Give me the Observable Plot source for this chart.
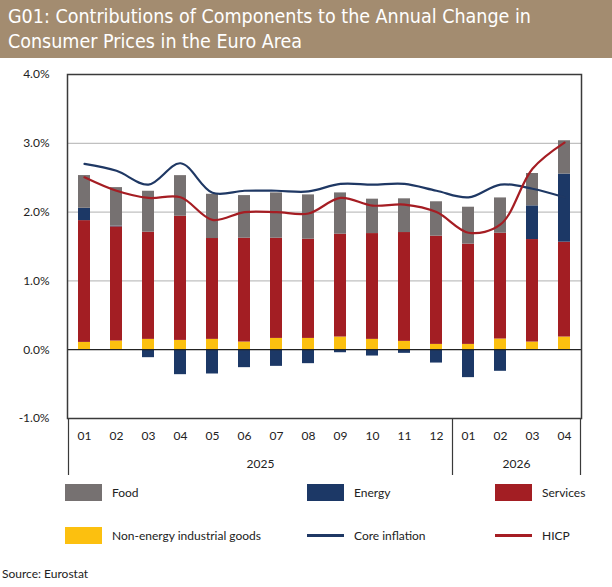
<!DOCTYPE html>
<html>
<head>
<meta charset="utf-8">
<script src="https://cdn.jsdelivr.net/npm/d3@7"></script>
<script src="https://cdn.jsdelivr.net/npm/@observablehq/plot@0.6"></script>
<style>
  html, body { margin: 0; padding: 0; background: #fff; }
  #wrap { position: relative; width: 612px; height: 587px; font-family: Lato, "Open Sans", sans-serif; color: #222; }
  #title { position: absolute; left: 0; top: 0; width: 612px; height: 58px; background: #a38c70; color: #fff;
           font-family: "Liberation Sans Narrow", "Arial Narrow", "DejaVu Sans Condensed", sans-serif; font-size: 19.5px; line-height: 25px;
           box-sizing: border-box; padding: 4px 0 0 8px; }
  #chart { position: absolute; left: 0; top: 58px; }
  .leg { position: absolute; font-size: 12px; display: flex; align-items: center; }
  .sw { width: 37px; height: 17px; margin-right: 10px; }
  .ln { width: 37px; height: 3px; margin-right: 10px; }
  #source { position: absolute; left: 2px; top: 566px; font-size: 12px; }
</style>
</head>
<body>
<div id="wrap">
  <div id="title">G01: Contributions of Components to the Annual Change in<br>Consumer Prices in the Euro Area</div>
  <div id="chart"></div>
  <div id="legend"></div>
  <div id="source">Source: Eurostat</div>
</div>
<script>
const months = ["01","02","03","04","05","06","07","08","09","10","11","12","01","02","03","04"];
const years  = ["2025","2025","2025","2025","2025","2025","2025","2025","2025","2025","2025","2025","2026","2026","2026","2026"];
const food     = [0.475, 0.56, 0.595, 0.59, 0.643, 0.619, 0.658, 0.644, 0.60, 0.50, 0.49, 0.50, 0.537, 0.513, 0.47, 0.484];
const energy   = [0.18, 0.01, -0.116, -0.363, -0.353, -0.261, -0.242, -0.203, -0.044, -0.092, -0.053, -0.194, -0.406, -0.314, 0.49, 0.99];
const services = [1.77, 1.66, 1.558, 1.805, 1.466, 1.51, 1.457, 1.442, 1.495, 1.538, 1.582, 1.573, 1.457, 1.538, 1.49, 1.379];
const neig     = [0.106, 0.126, 0.15, 0.135, 0.15, 0.111, 0.164, 0.164, 0.184, 0.15, 0.121, 0.077, 0.077, 0.155, 0.111, 0.184];
const core     = [2.70, 2.60, 2.40, 2.71, 2.28, 2.31, 2.31, 2.30, 2.41, 2.40, 2.41, 2.31, 2.215, 2.40, 2.34, 2.215];
const hicp     = [2.506, 2.31, 2.206, 2.216, 1.887, 2.0, 2.0, 1.98, 2.206, 2.095, 2.11, 2.0, 1.70, 1.82, 2.63, 3.01];
const yTicks = [-1, 0, 1, 2, 3, 4];
const yearLabels = ["2025", "2026"];
const yearAnchors = ["2025-07", "2026-03"];
const groupStarts = ["2025-01", "2026-01"];
const groupEnd = ["2026-04"];

const seriesNames = ["Non-energy industrial goods", "Services", "Energy", "Food"];
const seriesColors = ["#fcc00f", "#a31e23", "#1c3866", "#767171"];
const seriesValues = [neig, services, energy, food];

const keys = months.map((m, i) => years[i] + "-" + m);
const bars = [];
seriesNames.forEach((s, j) => keys.forEach((k, i) => bars.push({key: k, series: s, value: seriesValues[j][i]})));
const coreData = keys.map((k, i) => ({key: k, value: core[i]}));
const hicpData = keys.map((k, i) => ({key: k, value: hicp[i]}));

const W = 612, H = 420, mT = 16, mB = 60;
const frameH = H - mT - mB;

const plot = Plot.plot({
  width: W, height: H,
  marginLeft: 67, marginRight: 31, marginTop: mT, marginBottom: mB,
  style: {fontFamily: "Lato, 'Open Sans', sans-serif", fontSize: "12px", color: "#222"},
  x: {domain: keys, padding: 0, label: null},
  y: {domain: [-1, 4], label: null},
  color: {domain: seriesNames, range: seriesColors},
  marks: [
    Plot.ruleY([1, 2, 3], {stroke: "#c0c0c0", strokeWidth: 1.2}),
    Plot.barY(bars, Plot.stackY({x: "key", y: "value", fill: "series", order: seriesNames, insetLeft: 10, insetRight: 10})),
    Plot.ruleY([0], {stroke: "#222", strokeWidth: 1.2}),
    Plot.line(coreData, {x: "key", y: "value", stroke: "#1f3864", strokeWidth: 2.2, curve: "catmull-rom"}),
    Plot.line(hicpData, {x: "key", y: "value", stroke: "#a51d23", strokeWidth: 2.2, curve: "catmull-rom"}),
    Plot.frame({stroke: "#3a3a3a", strokeWidth: 1.5}),
    Plot.axisY(yTicks, {tickSize: 0, tickPadding: 18, tickFormat: d => d.toFixed(1) + "%", fontSize: 12, label: null}),
    Plot.axisX({tickSize: 0, tickPadding: 13, tickFormat: d => d.slice(5), fontSize: 12, label: null}),
    Plot.ruleX(groupStarts, {x: d => d, dx: -16, stroke: "#3a3a3a", strokeWidth: 1.2, insetTop: frameH, insetBottom: -57}),
    Plot.ruleX(groupEnd, {x: d => d, dx: 16, stroke: "#3a3a3a", strokeWidth: 1.2, insetTop: frameH, insetBottom: -57}),
    Plot.text(yearLabels, {x: (d, i) => yearAnchors[i], text: d => d, frameAnchor: "bottom", dx: -16, dy: 49, fontSize: 12, fill: "#222"})
  ]
});
document.getElementById("chart").appendChild(plot);

// legend
const legendItems = [
  {label: "Food", color: "#767171", type: "sw", left: 65, top: 484},
  {label: "Energy", color: "#1c3866", type: "sw", left: 307, top: 484},
  {label: "Services", color: "#a31e23", type: "sw", left: 495, top: 484},
  {label: "Non-energy industrial goods", color: "#fcc00f", type: "sw", left: 65, top: 527},
  {label: "Core inflation", color: "#1f3864", type: "ln", left: 307, top: 527},
  {label: "HICP", color: "#a51d23", type: "ln", left: 495, top: 527}
];
const leg = document.getElementById("legend");
legendItems.forEach(it => {
  const d = document.createElement("div");
  d.className = "leg";
  d.style.left = it.left + "px";
  d.style.top = it.top + "px";
  d.style.height = "17px";
  const s = document.createElement("div");
  s.className = it.type;
  s.style.background = it.color;
  d.appendChild(s);
  const t = document.createElement("span");
  t.textContent = it.label;
  d.appendChild(t);
  leg.appendChild(d);
});
</script>
</body>
</html>
